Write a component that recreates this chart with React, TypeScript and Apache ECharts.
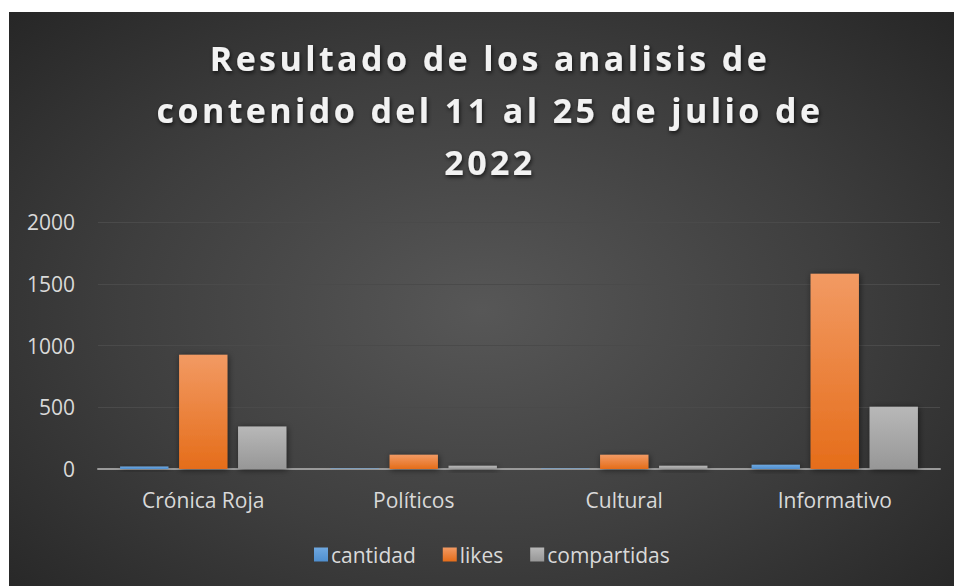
import React, { useEffect, useRef } from "react";
import * as echarts from "echarts";

const titleLines = ["Resultado de los analisis de", "contenido del 11 al 25 de julio de", "2022"];
const categories = ["Crónica Roja", "Políticos", "Cultural", "Informativo"];
const seriesNames = ["cantidad", "likes", "compartidas"];
const cantidad = [20, 5, 5, 35];
const likes = [925, 115, 115, 1580];
const compartidas = [345, 26, 26, 505];
const yTicks = { min: 0, max: 2000, interval: 500 };

const grad = (top: string, bottom: string) =>
  new echarts.graphic.LinearGradient(0, 0, 0, 1, [
    { offset: 0, color: top },
    { offset: 1, color: bottom },
  ]);

export default function App() {
  const ref = useRef<HTMLDivElement>(null);
  useEffect(() => {
    document.body.style.margin = "0";
    const chart = echarts.init(ref.current!, null, { renderer: "svg" });
    const labelColor = "#d9d9d9";
    const font = "'Open Sans', 'Noto Sans', sans-serif";
    const barShadow = { shadowBlur: 6, shadowColor: "rgba(0,0,0,0.55)", shadowOffsetX: 1, shadowOffsetY: 1 };
    const colors = [
      grad("#6fa8e0", "#4f8fcf"),
      grad("#f29a63", "#e56d1a"),
      grad("#b8b8b8", "#979797"),
    ];
    const data = [cantidad, likes, compartidas];
    chart.setOption({
      animation: false,
      title: {
        text: titleLines.join("\n"),
        left: 476,
        top: 15,
        textAlign: "center",
        textStyle: {
          color: "#f2f2f2",
          fontFamily: font,
          fontWeight: "bold",
          fontSize: 34,
          lineHeight: 52,
          textShadowBlur: 4,
          textShadowColor: "rgba(0,0,0,0.7)",
          textShadowOffsetX: 1,
          textShadowOffsetY: 2,
        },
      },
      legend: {
        data: seriesNames,
        bottom: 16,
        left: 300,
        itemWidth: 14,
        itemHeight: 14,
        itemGap: 27,
        icon: "rect",
        textStyle: { color: labelColor, fontFamily: font, fontSize: 21, padding: [0, 0, 0, -2] },
      },
      grid: { left: 89, right: 14, top: 210, bottom: 117 },
      xAxis: {
        type: "category",
        data: categories,
        axisTick: { show: false },
        axisLine: { lineStyle: { color: "#9a9a9a", width: 2 } },
        axisLabel: { color: labelColor, fontFamily: font, fontSize: 21, margin: 20 },
      },
      yAxis: {
        type: "value",
        min: yTicks.min,
        max: yTicks.max,
        interval: yTicks.interval,
        axisLine: { show: false },
        axisTick: { show: false },
        axisLabel: {
          color: labelColor,
          fontFamily: font,
          fontSize: 21,
          margin: 23,
          formatter: (v: number) => String(v),
        },
        splitLine: { lineStyle: { color: "#4a4a4a", width: 1 } },
      },
      series: seriesNames.map((name, i) => ({
        name,
        type: "bar",
        data: data[i],
        barGap: "22%",
        barCategoryGap: "21%",
        itemStyle: { color: colors[i], ...barShadow },
      })),
    });
    return () => chart.dispose();
  }, []);
  return (
    <div style={{ position: "relative", width: 954, height: 586, background: "#ffffff", overflow: "hidden" }}>
      <style>{`svg text[style*="34px"] { letter-spacing: 3.4px; }`}</style>
      <div
        style={{
          position: "absolute",
          left: 9,
          top: 12,
          width: 945,
          height: 574,
          background: "radial-gradient(ellipse 70% 75% at 50% 52%, #575757 0%, #3e3e3e 55%, #262626 100%)",
        }}
      >
        <div ref={ref} style={{ width: 945, height: 574 }} />
      </div>
    </div>
  );
}
